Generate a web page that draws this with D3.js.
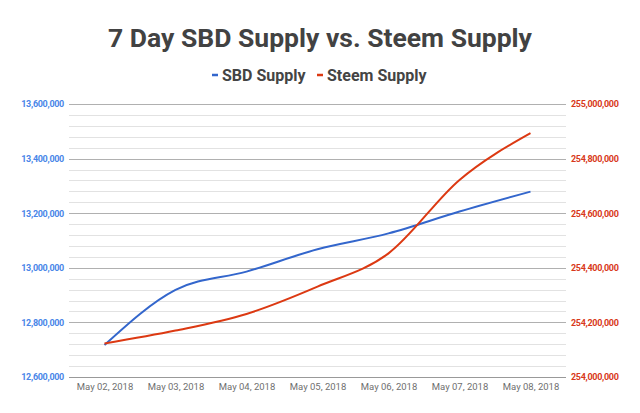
<!DOCTYPE html>
<html>
<head>
<meta charset="utf-8">
<script src="https://cdn.jsdelivr.net/npm/d3@7"></script>
<style>
  body { margin: 0; background: #fff; }
  text { font-family: Roboto, "Noto Sans", sans-serif; }
</style>
</head>
<body>
<svg id="chart" width="640" height="413"></svg>
<script>
// chart data
const dates = ["May 02, 2018", "May 03, 2018", "May 04, 2018", "May 05, 2018", "May 06, 2018", "May 07, 2018", "May 08, 2018"];
const sbdSupply = [12717000, 12919000, 12986000, 13068000, 13126000, 13206000, 13279000];
const steemSupply = [254123000, 254170000, 254231000, 254331000, 254453000, 254722000, 254893000];
const leftTicks = [12600000, 12800000, 13000000, 13200000, 13400000, 13600000];
const rightTicks = [254000000, 254200000, 254400000, 254600000, 254800000, 255000000];

const svg = d3.select("#chart");
const plotLeft = 69, plotRight = 566, plotTop = 104, plotBottom = 377;

const x = d3.scalePoint().domain(dates).range([plotLeft, plotRight]).padding(0.5);
const yL = d3.scaleLinear().domain([12600000, 13600000]).range([plotBottom, plotTop]);
const yR = d3.scaleLinear().domain([254000000, 255000000]).range([plotBottom, plotTop]);
const fmt = d3.format(",");

// title
svg.append("text")
  .attr("x", 320).attr("y", 47)
  .attr("text-anchor", "middle")
  .style("font-size", "26.5px").style("font-weight", "bold")
  .style("fill", "#424242")
  .text("7 Day SBD Supply vs. Steem Supply");

// legend
const legend = [
  {name: "SBD Supply", color: "#3366cc", x: 212},
  {name: "Steem Supply", color: "#dc3912", x: 317}
];
legend.forEach(l => {
  svg.append("line")
    .attr("x1", l.x).attr("x2", l.x + 6)
    .attr("y1", 75).attr("y2", 75)
    .attr("stroke", l.color).attr("stroke-width", 2.5);
  svg.append("text")
    .attr("x", l.x + 10).attr("y", 81)
    .style("font-size", "16px").style("font-weight", "bold")
    .style("fill", "#444")
    .text(l.name);
});

// minor gridlines
const minor = d3.range(12600000, 13600001, 40000);
svg.append("g").selectAll("line")
  .data(minor)
  .join("line")
  .attr("x1", plotLeft).attr("x2", plotRight)
  .attr("y1", d => Math.round(yL(d)) + 0.5).attr("y2", d => Math.round(yL(d)) + 0.5)
  .attr("stroke", d => d % 200000 === 0 ? "#b0b0b0" : "#e2e2e2")
  .attr("stroke-width", 1);

// left axis
const axL = svg.append("g")
  .attr("transform", `translate(${plotLeft},0)`)
  .call(d3.axisLeft(yL).tickValues(leftTicks).tickFormat(fmt).tickSize(0).tickPadding(5));
axL.select(".domain").remove();
axL.selectAll("text").style("font-size", "9px").style("font-weight", "bold").style("letter-spacing", "-0.3px")
  .style("fill", "#4a86e8").style("font-family", "Roboto, sans-serif");

// right axis
const axR = svg.append("g")
  .attr("transform", `translate(${plotRight},0)`)
  .call(d3.axisRight(yR).tickValues(rightTicks).tickFormat(fmt).tickSize(0).tickPadding(5));
axR.select(".domain").remove();
axR.selectAll("text").style("font-size", "9px").style("font-weight", "bold").style("letter-spacing", "-0.3px")
  .style("fill", "#d8391b").style("font-family", "Roboto, sans-serif");

// baseline
svg.append("line")
  .attr("x1", plotLeft).attr("x2", plotRight)
  .attr("y1", plotBottom + 0.5).attr("y2", plotBottom + 0.5)
  .attr("stroke", "#999").attr("stroke-width", 1);

// x axis
const axX = svg.append("g")
  .attr("transform", `translate(0,${plotBottom})`)
  .call(d3.axisBottom(x).tickSize(0).tickPadding(6));
axX.select(".domain").remove();
axX.selectAll("text").style("font-size", "9.5px").style("fill", "#6f6f6f").style("font-family", "Roboto, sans-serif");

// lines
const lineL = d3.line().x((d, i) => x(dates[i])).y(d => yL(d)).curve(d3.curveMonotoneX);
const lineR = d3.line().x((d, i) => x(dates[i])).y(d => yR(d)).curve(d3.curveMonotoneX);

svg.append("path").datum(sbdSupply)
  .attr("d", lineL).attr("fill", "none")
  .attr("stroke", "#3366cc").attr("stroke-width", 2);
svg.append("path").datum(steemSupply)
  .attr("d", lineR).attr("fill", "none")
  .attr("stroke", "#dc3912").attr("stroke-width", 2);
</script>
</body>
</html>
